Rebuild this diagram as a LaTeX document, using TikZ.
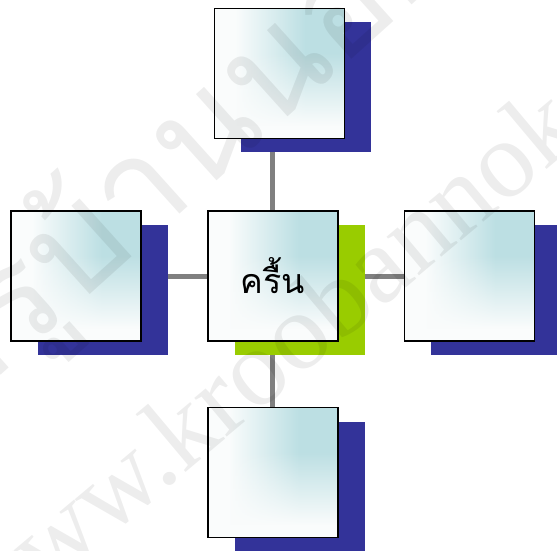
\documentclass[tikz,border=0pt]{standalone}
\usepackage{fontspec}
\setmainfont{Liberation Serif}
\newfontfamily\thaifont[Script=Thai]{Loma}
\usepackage{xcolor}
\usetikzlibrary{shadings,shadows,fadings,backgrounds}
\definecolor{tealtop}{HTML}{BCDFE3}
\definecolor{palebox}{HTML}{FAFCFC}
\definecolor{shadowblue}{HTML}{333399}
\definecolor{shadowgreen}{HTML}{99CC00}
\definecolor{linkgray}{HTML}{808080}
% pale box, teal towards the upper right
\pgfdeclarehorizontalshading{cardside}{100bp}{color(0bp)=(palebox); color(33bp)=(palebox); color(60bp)=(tealtop); color(100bp)=(tealtop)}
\pgfdeclareverticalshading{lowmask}{100bp}{color(0bp)=(pgftransparent!0); color(30bp)=(pgftransparent!0); color(58bp)=(pgftransparent!100); color(100bp)=(pgftransparent!100)}
\pgfdeclarefading{lowwhite}{\pgfuseshading{lowmask}}

\begin{document}
\begin{tikzpicture}[x=1pt,y=-1pt,
    card/.style={draw=black,line width=1.5pt,minimum width=130pt,minimum height=130pt,inner sep=0pt,
        shade,shading=cardside,
        path picture={\fill[palebox,path fading=lowwhite] (path picture bounding box.south west) rectangle (path picture bounding box.north east);},
        drop shadow={shadow xshift=27pt,shadow yshift=-14pt,fill=#1,opacity=1}},
    card/.default=shadowblue,
    link/.style={draw=linkgray,line width=5pt},
    wmark/.style={text=black,opacity=0.07,inner sep=0pt}]
    \useasboundingbox (0,0) rectangle (557,551);
    % centre and the four around it
    \node[card] (up) at (279.4,73.3) {};
    \node[card] (west) at (76,276) {};
    \node[card=shadowgreen] (hub) at (272.8,276) {\thaifont\fontsize{34}{40}\selectfont ครื้น};
    \node[card] (east) at (469.3,276) {};
    \node[card] (down) at (272.8,472.5) {};
    \begin{scope}[on background layer]
        \draw[link] (hub) -- (hub |- up);
        \draw[link] (hub) -- (west);
        \draw[link] (hub) -- (east);
        \draw[link] (hub) -- (down);
    \end{scope}
    % watermark
    \node[wmark,rotate=42] (siteth) at (180,160) {\thaifont\fontsize{140}{140}\selectfont ครูบ้านนอก};
    \node[wmark,rotate=40] (siteen) at (345,290) {\fontsize{110}{110}\selectfont www.kroobannok.com};
\end{tikzpicture}
\end{document}
